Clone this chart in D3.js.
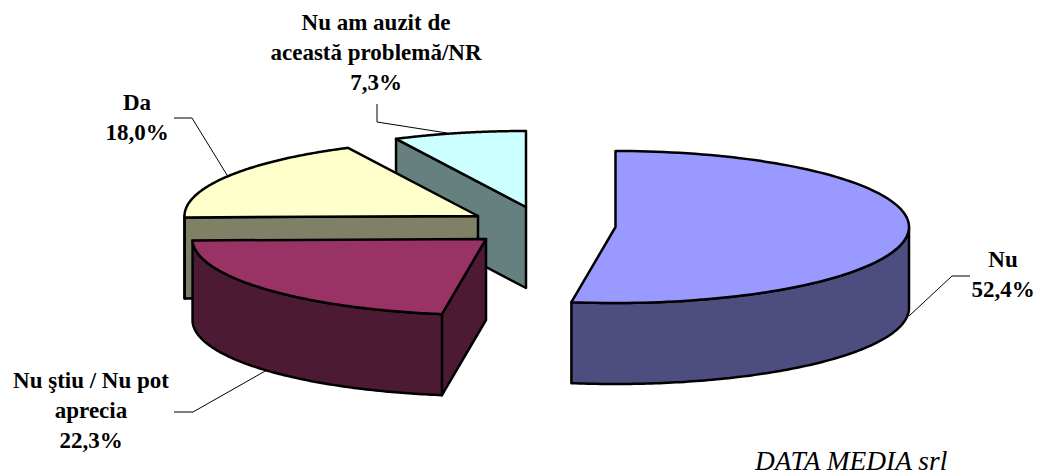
<!DOCTYPE html>
<html>
<head>
<meta charset="utf-8">
<script src="https://cdn.jsdelivr.net/npm/d3@7"></script>
<style>
  html, body { margin: 0; padding: 0; background: #fff; }
  text { font-family: "Liberation Serif", serif; fill: #000; }
  .lab { font-weight: bold; font-size: 23px; }
  .credit { font-style: italic; font-size: 27.4px; }
</style>
</head>
<body>
<svg id="chart" width="1039" height="474"></svg>
<script>
const categories = ['Nu', 'Nu ştiu / Nu pot aprecia', 'Da', 'Nu am auzit de această problemă/NR'];
const values = [52.4, 22.3, 18.0, 7.3];
const labelLines = [
    ['Nu', '52,4%'],
    ['Nu ştiu / Nu pot', 'aprecia', '22,3%'],
    ['Da', '18,0%'],
    ['Nu am auzit de', 'această problemă/NR', '7,3%']
];
const topColors = ['#9999ff', '#993366', '#ffffcc', '#ccffff'];
const sideColors = ['#4d4d80', '#4d1a33', '#808066', '#668080'];

// layout
const rx = 293.5, ry = 76, depth = 81;
const centres = [[615.5, 227], [486, 239], [478, 216], [526, 207]];
const labelPos = [[1003, 267], [91, 388], [137, 110], [376, 30]];
const leaders = [
    [[970, 276], [952, 276], [909, 316]],
    [[174, 412], [193, 412], [267, 370]],
    [[174, 118], [192, 118], [227, 175]],
    [[377, 104], [377, 122], [447, 133]]
];

const svg = d3.select('#chart');
const arcs = d3.pie().sort(null)(values);
const line = d3.line();

// angle is clockwise from the top of the ellipse
function rim(c, a, drop) {
    return [c[0] + rx * Math.sin(a), c[1] - ry * Math.cos(a) + (drop || 0)];
}
function rimPts(c, a0, a1, drop) {
    const n = 120;
    return d3.range(n + 1).map(i => rim(c, a0 + (a1 - a0) * i / n, drop));
}

// leaders sit behind the slices
svg.selectAll('path.leader').data(leaders).join('path')
    .attr('class', 'leader')
    .attr('d', line)
    .attr('fill', 'none')
    .attr('stroke', '#000')
    .attr('stroke-width', 1);

// back to front
[3, 2, 1, 0].forEach(i => {
    const d = arcs[i], c = centres[i];
    const a0 = d.startAngle, a1 = d.endAngle;
    const g = svg.append('g');
    const outline = s => s.attr('stroke', '#000')
        .attr('stroke-width', 2.5).attr('stroke-linejoin', 'round');

    // cut face of the start edge, the big Nu slice has it turned away
    if (i > 0) {
        const p = rim(c, a0);
        g.append('path')
            .attr('d', line([c, p, [p[0], p[1] + depth], [c[0], c[1] + depth]]) + 'Z')
            .attr('fill', sideColors[i])
            .call(outline);
    }
    // outer wall on the front half of the rim
    const w0 = Math.max(a0, Math.PI / 2), w1 = Math.min(a1, Math.PI * 1.5);
    if (w1 > w0) {
        g.append('path')
            .attr('d', line(rimPts(c, w0, w1, 0).concat(rimPts(c, w1, w0, depth))) + 'Z')
            .attr('fill', sideColors[i])
            .call(outline);
    }
    // top face
    g.append('path')
        .attr('d', line([c].concat(rimPts(c, a0, a1))) + 'Z')
        .attr('fill', topColors[i])
        .call(outline);
});

labelLines.forEach((lines, i) => {
    svg.append('text').attr('class', 'lab')
        .attr('text-anchor', 'middle')
        .attr('x', labelPos[i][0]).attr('y', labelPos[i][1])
        .selectAll('tspan').data(lines).join('tspan')
        .attr('x', labelPos[i][0])
        .attr('dy', (l, j) => j ? 30 : 0)
        .text(l => l);
});

svg.append('text').attr('class', 'credit')
    .attr('x', 755).attr('y', 470)
    .text('DATA MEDIA srl');
</script>
</body>
</html>
